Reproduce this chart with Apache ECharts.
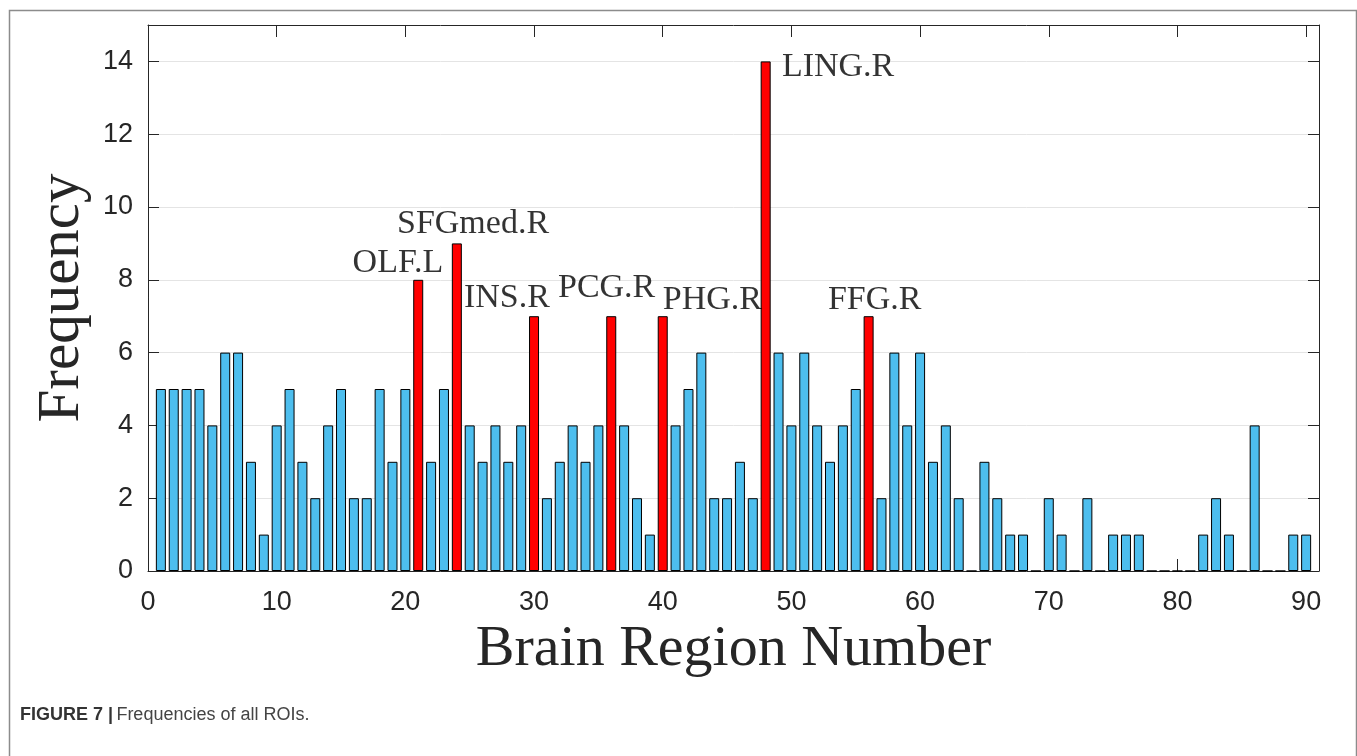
<!DOCTYPE html>
<html>
<head>
<meta charset="utf-8">
<script src="https://cdn.jsdelivr.net/npm/echarts@6/dist/echarts.min.js"></script>
<style>
html,body{margin:0;padding:0;background:#fff;}
#chart{width:1357px;height:756px;}
</style>
</head>
<body>
<div id="chart"></div>
<script>
// Frequency of each brain region (region number = index + 1)
const frequency = [
  5,5,5,5,4,6,6,3,1,4,
  5,3,2,4,5,2,2,5,3,5,
  8,3,5,9,4,3,4,3,4,7,
  2,3,4,3,4,7,4,2,1,7,
  4,5,6,2,2,3,2,14,6,4,
  6,4,3,4,5,7,2,6,4,6,
  3,4,2,0,3,2,1,1,0,2,
  1,0,2,0,1,1,1,0,0,0,
  0,1,2,1,0,4,0,0,1,1
];
const highlighted = [21,24,30,36,40,48,56];
const labelNames = ['OLF.L','SFGmed.R','INS.R','PCG.R','PHG.R','LING.R','FFG.R'];
const labelX = [15.9,19.35,24.55,31.86,40.0,49.26,52.84];
const labelY = [8.47,9.54,7.51,7.76,7.45,13.85,7.43];
const xTicks = [0,10,20,30,40,50,60,70,80,90];
const yTicks = [0,2,4,6,8,10,12,14];

const BLUE = '#4DBEEE', RED = '#FF0000', AX = '#262626';

const barData = frequency.map((v, i) => ({
  value: [i + 1, v],
  itemStyle: { color: highlighted.includes(i + 1) ? RED : BLUE }
}));
const labelData = labelNames.map((n, i) => [labelX[i], labelY[i], n]);

const chart = echarts.init(document.getElementById('chart'), null, {renderer: 'canvas'});
const tickFont = {fontFamily: 'Liberation Sans, Arial, sans-serif', fontSize: 27, color: AX};

chart.setOption({
  animation: false,
  backgroundColor: '#fff',
  grid: {left: 148, top: 25, right: 38, bottom: 185, containLabel: false},
  xAxis: [
    {
      type: 'value', min: 0, max: 91, interval: 10, position: 'bottom',
      name: 'Brain Region Number', nameLocation: 'middle', nameGap: 33,
      nameTextStyle: {fontFamily: 'Liberation Serif, Times New Roman, serif', fontSize: 58, color: AX},
      axisLine: {show: true, onZero: false, lineStyle: {color: AX, width: 1}},
      axisTick: {show: true, inside: true, length: 12, customValues: xTicks, lineStyle: {color: AX}},
      axisLabel: Object.assign({margin: 18, customValues: xTicks}, tickFont),
      splitLine: {show: false}
    },
    {
      type: 'value', min: 0, max: 91, interval: 10, position: 'top',
      axisLine: {show: true, onZero: false, lineStyle: {color: AX, width: 1}},
      axisTick: {show: true, inside: true, length: 12, customValues: xTicks, lineStyle: {color: AX}},
      axisLabel: {show: false},
      splitLine: {show: false}
    }
  ],
  yAxis: [
    {
      type: 'value', min: 0, max: 15, interval: 2, position: 'left',
      name: 'Frequency', nameLocation: 'middle', nameGap: 45,
      nameTextStyle: {fontFamily: 'Liberation Serif, Times New Roman, serif', fontSize: 59, color: AX},
      axisLine: {show: true, onZero: false, lineStyle: {color: AX, width: 1}},
      axisTick: {show: true, inside: true, length: 11, customValues: yTicks, lineStyle: {color: AX}},
      axisLabel: Object.assign({margin: 15, customValues: yTicks}, tickFont),
      splitLine: {show: true, lineStyle: {color: '#e4e4e4', width: 1}}
    },
    {
      type: 'value', min: 0, max: 15, interval: 2, position: 'right',
      axisLine: {show: true, onZero: false, lineStyle: {color: AX, width: 1}},
      axisTick: {show: true, inside: true, length: 11, customValues: yTicks, lineStyle: {color: AX}},
      axisLabel: {show: false},
      splitLine: {show: false}
    }
  ],
  series: [
    {
      type: 'bar', xAxisIndex: 0, yAxisIndex: 0,
      barWidth: 10,
      data: barData,
      itemStyle: {borderColor: '#000', borderWidth: 1}
    },
    {
      type: 'scatter', xAxisIndex: 0, yAxisIndex: 0,
      symbolSize: 0,
      data: labelData,
      label: {
        show: true, position: 'right', distance: 0,
        formatter: p => p.data[2],
        fontFamily: 'Liberation Serif, Times New Roman, serif',
        fontSize: 34, color: '#000'
      },
      z: 10
    }
  ],
  graphic: [
    {
      type: 'rect', left: 7, top: 8, silent: true,
      shape: {width: 1347, height: 760},
      style: {fill: 'none', stroke: '#8c8c8c', lineWidth: 1.5}
    },
    {
      type: 'text', left: 20, top: 706,
      style: {
        text: '{b|FIGURE 7 |} {r|Frequencies of all ROIs.}',
        rich: {
          b: {fontFamily: 'Liberation Sans, Arial, sans-serif', fontWeight: 'bold', fontSize: 18, fill: '#333'},
          r: {fontFamily: 'Liberation Sans, Arial, sans-serif', fontSize: 18, fill: '#444'}
        }
      }
    }
  ]
});
</script>
</body>
</html>
